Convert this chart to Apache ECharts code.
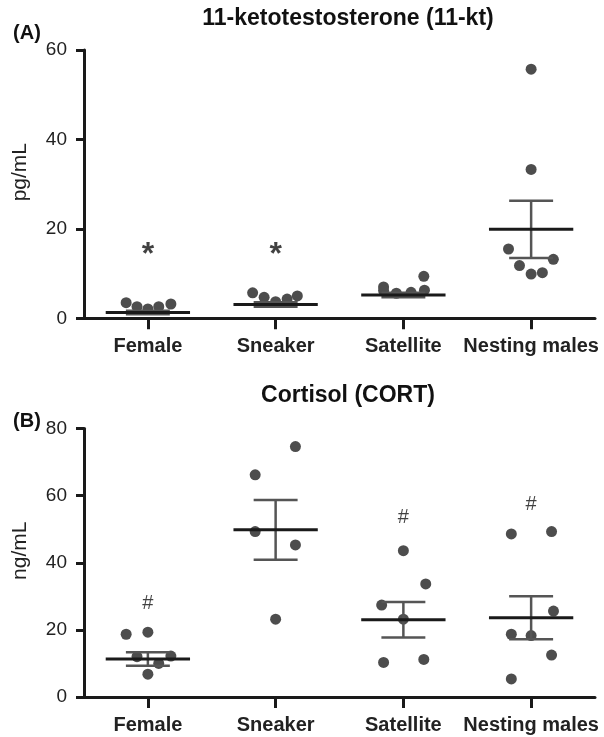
<!DOCTYPE html>
<html>
<head>
<meta charset="utf-8">
<script src="https://cdn.jsdelivr.net/npm/echarts@6/dist/echarts.min.js"></script>
<style>html,body{margin:0;padding:0;background:#fff}#c{width:604px;height:737px}</style>
</head>
<body>
<div id="c"></div>
<script>
const categories = ['Female', 'Sneaker', 'Satellite', 'Nesting males'];

// Panel A: 11-ketotestosterone (pg/mL)
const ktTicks = [0, 20, 40, 60];
const ktValues = [
  [3.5, 2.6, 2.1, 2.6, 3.2],
  [5.7, 4.7, 3.7, 4.3, 5.0],
  [7.0, 6.2, 5.6, 5.8, 6.3, 9.4],
  [55.7, 33.3, 15.5, 13.2, 11.8, 9.9, 10.2]
];
const ktJitter = [
  [-0.17, -0.085, 0, 0.085, 0.18],
  [-0.18, -0.09, 0, 0.09, 0.17],
  [-0.155, -0.155, -0.055, 0.06, 0.165, 0.16],
  [0, 0, -0.177, 0.174, -0.091, 0, 0.088]
];
const ktMean = [1.3, 3.1, 5.2, 19.9];
const ktSem = [0.4, 0.5, 0.5, 6.4];
const ktMarks = ['*', '*', '', ''];
const ktMarkY = [15.7, 15.7, null, null];

// Panel B: Cortisol (ng/mL)
const cortTicks = [0, 20, 40, 60, 80];
const cortValues = [
  [18.7, 19.3, 12.0, 10.0, 12.2, 6.8],
  [66.2, 49.3, 74.6, 45.3, 23.2],
  [43.6, 33.7, 27.4, 23.2, 10.3, 11.2],
  [48.6, 49.3, 25.6, 18.7, 18.3, 12.5, 5.4]
];
const cortJitter = [
  [-0.17, 0, -0.085, 0.085, 0.18, 0],
  [-0.16, -0.16, 0.155, 0.155, 0],
  [0, 0.175, -0.17, 0, -0.155, 0.16],
  [-0.155, 0.16, 0.175, -0.155, 0, 0.16, -0.155]
];
const cortMean = [11.3, 49.8, 23.0, 23.6];
const cortSem = [2.0, 8.9, 5.3, 6.4];
const cortMarks = ['#', '', '#', '#'];
const cortMarkY = [27.8, null, 53.6, 57.4];

const MEAN_HALF = 0.33, CAP_HALF = 0.172;
const INK = '#1a1a1a';
const FONT = 'Liberation Sans, Arial, Helvetica, sans-serif';

function pointData(values, jitter) {
  const out = [];
  values.forEach((arr, i) => arr.forEach((v, j) => out.push([i + jitter[i][j], v])));
  return out;
}
function statData(mean, sem) {
  return mean.map((m, i) => [i, m, sem[i]]);
}
function markData(marks, ys) {
  const out = [];
  marks.forEach((t, i) => { if (t && ys[i] != null) out.push({ value: [i, ys[i]], name: t }); });
  return out;
}
function renderStat(params, api) {
  const x = api.value(0), m = api.value(1), s = api.value(2);
  const ml = api.coord([x - MEAN_HALF, m]), mr = api.coord([x + MEAN_HALF, m]);
  const top = api.coord([x, m + s]), bot = api.coord([x, m - s]);
  const tl = api.coord([x - CAP_HALF, m + s]), tr = api.coord([x + CAP_HALF, m + s]);
  const bl = api.coord([x - CAP_HALF, m - s]), br = api.coord([x + CAP_HALF, m - s]);
  const semStyle = { stroke: '#555', lineWidth: 2.5 };
  return {
    type: 'group',
    children: [
      { type: 'line', shape: { x1: top[0], y1: top[1], x2: bot[0], y2: bot[1] }, style: semStyle },
      { type: 'line', shape: { x1: tl[0], y1: tl[1], x2: tr[0], y2: tr[1] }, style: semStyle },
      { type: 'line', shape: { x1: bl[0], y1: bl[1], x2: br[0], y2: br[1] }, style: semStyle },
      { type: 'line', shape: { x1: ml[0], y1: ml[1], x2: mr[0], y2: mr[1] }, style: { stroke: INK, lineWidth: 3 } }
    ]
  };
}

function yAxis(gi, ticks, name) {
  return {
    gridIndex: gi, type: 'value', min: ticks[0], max: ticks[ticks.length - 1], interval: ticks[1] - ticks[0],
    axisLine: { show: true, onZero: false, lineStyle: { color: INK, width: 3 } },
    axisTick: { show: true, length: 8, lineStyle: { color: INK, width: 3 } },
    axisLabel: { fontSize: 19, color: '#222', margin: 17, fontFamily: FONT },
    splitLine: { show: false },
    name: name, nameLocation: 'middle', nameGap: 53,
    nameTextStyle: { fontSize: 21, color: '#222', fontFamily: FONT, padding: [0, 0, 0, 24] }
  };
}
function xCat(gi) {
  return {
    gridIndex: gi, type: 'category', data: categories,
    axisLine: { show: true, onZero: false, lineStyle: { color: INK, width: 3 } },
    axisTick: { show: true, alignWithLabel: true, length: 11, lineStyle: { color: INK, width: 3 } },
    axisLabel: { fontSize: 20, fontWeight: 'bold', color: '#222', margin: 18, fontFamily: FONT, interval: 0 },
    splitLine: { show: false }
  };
}
function xVal(gi) {
  return { gridIndex: gi, type: 'value', min: -0.5, max: 3.5, show: false, splitLine: { show: false } };
}

function panelSeries(xi, yi, values, jitter, mean, sem, marks, markY, markFont) {
  return [
    {
      type: 'scatter', xAxisIndex: xi, yAxisIndex: yi, data: pointData(values, jitter),
      symbolSize: 11, itemStyle: { color: '#4d4d4d', opacity: 1 }, z: 2, silent: true
    },
    {
      type: 'custom', xAxisIndex: xi, yAxisIndex: yi, data: statData(mean, sem),
      renderItem: renderStat, z: 3, silent: true
    },
    {
      type: 'scatter', xAxisIndex: xi, yAxisIndex: yi, data: markData(marks, markY),
      symbolSize: 1, itemStyle: { color: 'transparent' }, z: 4, silent: true,
      label: Object.assign({ show: true, position: 'inside', formatter: p => p.name, color: '#111', fontFamily: FONT }, markFont)
    }
  ];
}

const chart = echarts.init(document.getElementById('c'), null, { renderer: 'canvas' });
chart.setOption({
  animation: false,
  backgroundColor: '#fff',
  textStyle: { fontFamily: FONT },
  grid: [
    { left: 84, top: 50, width: 511, height: 268.3, containLabel: false, outerBoundsMode: 'none' },
    { left: 84, top: 428.5, width: 511, height: 268.5, containLabel: false, outerBoundsMode: 'none' }
  ],
  xAxis: [xCat(0), xVal(0), xCat(1), xVal(1)],
  yAxis: [yAxis(0, ktTicks, 'pg/mL'), yAxis(1, cortTicks, 'ng/mL')],
  series: [].concat(
    panelSeries(1, 0, ktValues, ktJitter, ktMean, ktSem, ktMarks, ktMarkY, { fontSize: 32, fontWeight: 'bold', offset: [0, 7] }),
    panelSeries(3, 1, cortValues, cortJitter, cortMean, cortSem, cortMarks, cortMarkY, { fontSize: 20, fontWeight: 'normal' })
  ),
  graphic: [
    { type: 'text', x: 348, y: 19, style: { text: '11-ketotestosterone (11-kt)', font: 'bold 23px ' + FONT, fill: '#111', textAlign: 'center', textVerticalAlign: 'middle' } },
    { type: 'text', x: 348, y: 396, style: { text: 'Cortisol (CORT)', font: 'bold 23px ' + FONT, fill: '#111', textAlign: 'center', textVerticalAlign: 'middle' } },
    { type: 'text', x: 27, y: 33, style: { text: '(A)', font: 'bold 20px ' + FONT, fill: '#111', textAlign: 'center', textVerticalAlign: 'middle' } },
    { type: 'text', x: 27, y: 421, style: { text: '(B)', font: 'bold 20px ' + FONT, fill: '#111', textAlign: 'center', textVerticalAlign: 'middle' } }
  ]
});
</script>
</body>
</html>
